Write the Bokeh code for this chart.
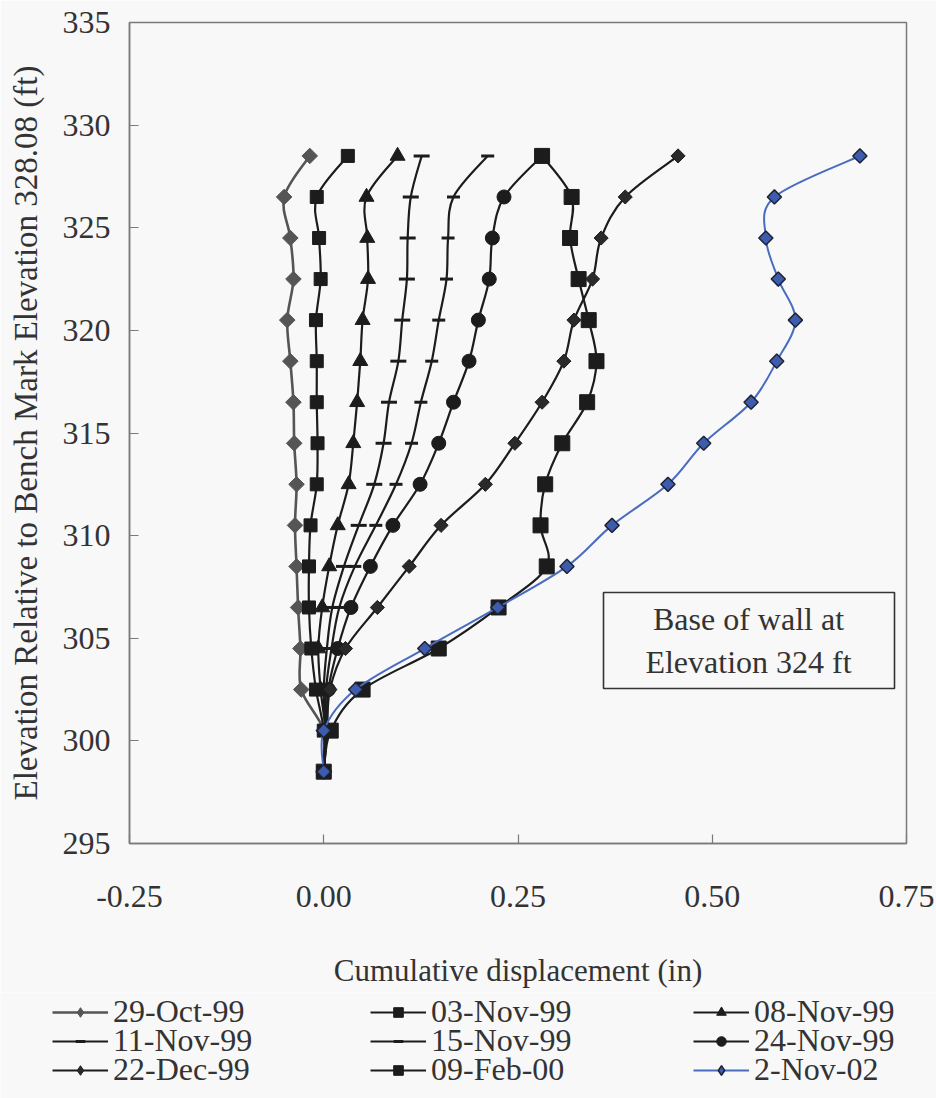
import numpy as np
from bokeh.plotting import figure
from bokeh.layouts import column
from bokeh.models import (Range1d, FixedTicker, PrintfTickFormatter, Legend, LegendItem,
                          ColumnDataSource, Label, BoxAnnotation)
from bokeh.embed import file_html
from bokeh.resources import INLINE

# ---------------- data ----------------
elevation = [328.5, 326.5, 324.5, 322.5, 320.5, 318.5, 316.5, 314.5,
             312.5, 310.5, 308.5, 306.5, 304.5, 302.5, 300.5, 298.5]

d_29_oct_99 = [-0.018, -0.051, -0.043, -0.039, -0.047, -0.043, -0.039, -0.038,
               -0.035, -0.037, -0.035, -0.033, -0.030, -0.029, 0.000, 0.000]
d_03_nov_99 = [0.031, -0.009, -0.006, -0.004, -0.010, -0.009, -0.009, -0.008,
               -0.009, -0.017, -0.019, -0.019, -0.016, -0.010, 0.000, 0.000]
d_08_nov_99 = [0.095, 0.055, 0.056, 0.057, 0.050, 0.047, 0.043, 0.038,
               0.032, 0.018, 0.007, -0.002, -0.007, -0.004, 0.002, 0.000]
d_11_nov_99 = [0.126, 0.112, 0.108, 0.107, 0.101, 0.096, 0.084, 0.077,
               0.065, 0.045, 0.026, 0.011, 0.004, 0.000, 0.002, 0.000]
d_15_nov_99 = [0.211, 0.167, 0.160, 0.158, 0.148, 0.139, 0.125, 0.113,
               0.093, 0.067, 0.040, 0.020, 0.010, 0.003, 0.003, 0.000]
d_24_nov_99 = [0.281, 0.232, 0.217, 0.213, 0.199, 0.187, 0.167, 0.148,
               0.124, 0.089, 0.060, 0.035, 0.018, 0.006, 0.004, 0.000]
d_22_dec_99 = [0.456, 0.388, 0.357, 0.346, 0.322, 0.309, 0.281, 0.246,
               0.208, 0.151, 0.110, 0.069, 0.028, 0.008, 0.004, 0.000]
d_09_feb_00 = [0.281, 0.319, 0.317, 0.328, 0.341, 0.351, 0.339, 0.307,
               0.285, 0.279, 0.287, 0.225, 0.148, 0.050, 0.009, 0.000]
d_02_nov_02 = [0.690, 0.580, 0.569, 0.585, 0.607, 0.583, 0.550, 0.489,
               0.443, 0.371, 0.313, 0.224, 0.130, 0.041, 0.000, 0.000]

series_labels = ["29-Oct-99", "03-Nov-99", "08-Nov-99",
                 "11-Nov-99", "15-Nov-99", "24-Nov-99",
                 "22-Dec-99", "09-Feb-00", "2-Nov-02"]
series_values = [d_29_oct_99, d_03_nov_99, d_08_nov_99,
                 d_11_nov_99, d_15_nov_99, d_24_nov_99,
                 d_22_dec_99, d_09_feb_00, d_02_nov_02]

x_ticks = [-0.25, 0.0, 0.25, 0.50, 0.75]
y_ticks = [295, 300, 305, 310, 315, 320, 325, 330, 335]

x_title = "Cumulative displacement (in)"
y_title = "Elevation Relative to Bench Mark Elevation 328.08 (ft)"
note_text = "Base of wall at\nElevation 324 ft"

# ---------------- styles ----------------
FONT = "Liberation Serif"
TXT = "#333333"
BG = "#f8f8f8"
FRAME = "#7a7a7a"
BLK = "#1c1c1c"

# marker: shape in the chart; lmarker: shape shown in the legend
styles = [
    dict(marker="square", lmarker="diamond", angle=np.pi / 4, size=11, line="#555555", fill="#555555", mline="#555555", lw=2.6, mlw=1),
    dict(marker="square", lmarker="square", angle=0.0, size=13, line=BLK, fill=BLK, mline=BLK, lw=2.2, mlw=1),
    dict(marker="triangle", lmarker="triangle", angle=0.0, size=15, line=BLK, fill=BLK, mline=BLK, lw=2.2, mlw=1),
    dict(marker="dash", lmarker="dash", angle=0.0, size=16, line=BLK, fill=BLK, mline=BLK, lw=2.2, mlw=3),
    dict(marker="dash", lmarker="dash", angle=0.0, size=13, line=BLK, fill=BLK, mline=BLK, lw=2.2, mlw=3),
    dict(marker="circle", lmarker="circle", angle=0.0, size=14, line=BLK, fill=BLK, mline=BLK, lw=2.2, mlw=1),
    dict(marker="square", lmarker="diamond", angle=np.pi / 4, size=10, line=BLK, fill="#2a2a2a", mline=BLK, lw=2.2, mlw=1),
    dict(marker="square", lmarker="square", angle=0.0, size=15, line=BLK, fill=BLK, mline=BLK, lw=2.2, mlw=1),
    dict(marker="square", lmarker="diamond", angle=np.pi / 4, size=10, line="#4a6cc0", fill="#3d5cae", mline="#1e2233", lw=2, mlw=1.5),
]


def smooth_segments(xs, ys, t=1.0 / 6.0):
    """Cubic Bezier segments (Catmull-Rom style) joining consecutive data points."""
    x = np.asarray(xs, float)
    y = np.asarray(ys, float)
    n = len(x)
    xp = np.concatenate([[x[0]], x, [x[-1]]])
    yp = np.concatenate([[y[0]], y, [y[-1]]])
    return dict(
        x0=x[:-1], y0=y[:-1], x1=x[1:], y1=y[1:],
        cx0=x[:-1] + (xp[2:n + 1] - xp[0:n - 1]) * t,
        cy0=y[:-1] + (yp[2:n + 1] - yp[0:n - 1]) * t,
        cx1=x[1:] - (xp[3:n + 2] - xp[1:n]) * t,
        cy1=y[1:] - (yp[3:n + 2] - yp[1:n]) * t,
    )


def add_series(fig, vals, st, legend_copy=False):
    seg = ColumnDataSource(smooth_segments(vals, elevation))
    r_line = fig.bezier(x0="x0", y0="y0", x1="x1", y1="y1", cx0="cx0", cy0="cy0",
                        cx1="cx1", cy1="cy1", source=seg,
                        line_color=st["line"], line_width=st["lw"])
    pts = ColumnDataSource(dict(x=vals, y=elevation))
    r_pts = fig.scatter(x="x", y="y", source=pts,
                        marker=st["lmarker"] if legend_copy else st["marker"],
                        size=st["size"], angle=0.0 if legend_copy else st["angle"],
                        fill_color=st["fill"], line_color=st["mline"],
                        line_width=st["mlw"])
    if legend_copy:
        r_line.visible = False
        r_pts.visible = False
    return [r_line, r_pts]


# ---------------- main chart ----------------
MAIN_H = 992
p = figure(width=936, height=MAIN_H,
           x_range=Range1d(x_ticks[0], x_ticks[-1]),
           y_range=Range1d(y_ticks[0], y_ticks[-1]),
           output_backend="svg", toolbar_location=None,
           min_border_left=129, min_border_right=30,
           min_border_top=22, min_border_bottom=MAIN_H - 843)

p.background_fill_color = BG
p.border_fill_color = BG
p.outline_line_color = FRAME
p.outline_line_width = 1.5
p.grid.visible = False

for ax in (p.xaxis[0], p.yaxis[0]):
    ax.axis_line_color = FRAME
    ax.axis_line_width = 1.5
    ax.major_tick_line_color = FRAME
    ax.major_tick_line_width = 1.2
    ax.major_tick_in = 9
    ax.major_tick_out = 0
    ax.minor_tick_line_color = None
    ax.major_label_text_font = FONT
    ax.major_label_text_font_size = "32px"
    ax.major_label_text_color = TXT
    ax.axis_label_text_font = FONT
    ax.axis_label_text_font_style = "normal"
    ax.axis_label_text_color = TXT

p.xaxis.ticker = FixedTicker(ticks=x_ticks)
p.xaxis.formatter = PrintfTickFormatter(format="%.2f")
p.xaxis.major_label_standoff = 42
p.xaxis.axis_label = x_title
p.xaxis.axis_label_text_font_size = "31px"
p.xaxis.axis_label_standoff = 43

p.yaxis.ticker = FixedTicker(ticks=y_ticks)
p.yaxis.formatter = PrintfTickFormatter(format="%d")
p.yaxis.major_label_standoff = 19
p.yaxis.axis_label = y_title
p.yaxis.axis_label_text_font_size = "33px"
p.yaxis.axis_label_standoff = 16

for vals, st in zip(series_values, styles):
    add_series(p, vals, st)

# note box
p.add_layout(BoxAnnotation(left=474, right=765, top=251, bottom=155,
                           left_units="screen", right_units="screen",
                           top_units="screen", bottom_units="screen",
                           fill_color=BG, fill_alpha=1.0,
                           line_color="#333333", line_alpha=1.0, line_width=1.6,
                           level="annotation"))
p.add_layout(Label(x=619, y=203, x_units="screen", y_units="screen", text=note_text,
                   text_align="center", text_baseline="middle", text_font=FONT,
                   text_font_size="32px", text_color=TXT, text_line_height=1.18))

# ---------------- legend strip (3 columns x 3 rows) ----------------
LEG_H = 1098 - MAIN_H
lg = figure(width=936, height=LEG_H, x_range=Range1d(0, 1), y_range=Range1d(0, 1),
            x_axis_location=None, y_axis_location=None, min_border=0,
            output_backend="svg", toolbar_location=None)
lg.background_fill_color = BG
lg.border_fill_color = BG
lg.outline_line_color = None
lg.grid.visible = False
for fig in (p, lg):
    if "frame_align" in fig.properties():
        fig.frame_align = False

items = []
for label, vals, st in zip(series_labels, series_values, styles):
    items.append(LegendItem(label=label, renderers=add_series(lg, vals, st, legend_copy=True)))

col_x = [52, 370, 693]          # left edge of each legend column (px)
row_y = [68, 39, 10]            # bottom of each legend row, from strip bottom (px)
for i, item in enumerate(items):
    r, c = divmod(i, 3)
    leg = Legend(items=[item], location=(col_x[c], row_y[r]), orientation="vertical",
                 label_text_font=FONT, label_text_font_size="32px",
                 label_text_color=TXT, glyph_width=56, glyph_height=24,
                 label_standoff=5, label_height=24, spacing=0,
                 padding=0, margin=0, border_line_alpha=0,
                 background_fill_alpha=0)
    lg.add_layout(leg, "center")

layout = column(p, lg, spacing=0)
open("out.html", "w").write(file_html(layout, INLINE))
